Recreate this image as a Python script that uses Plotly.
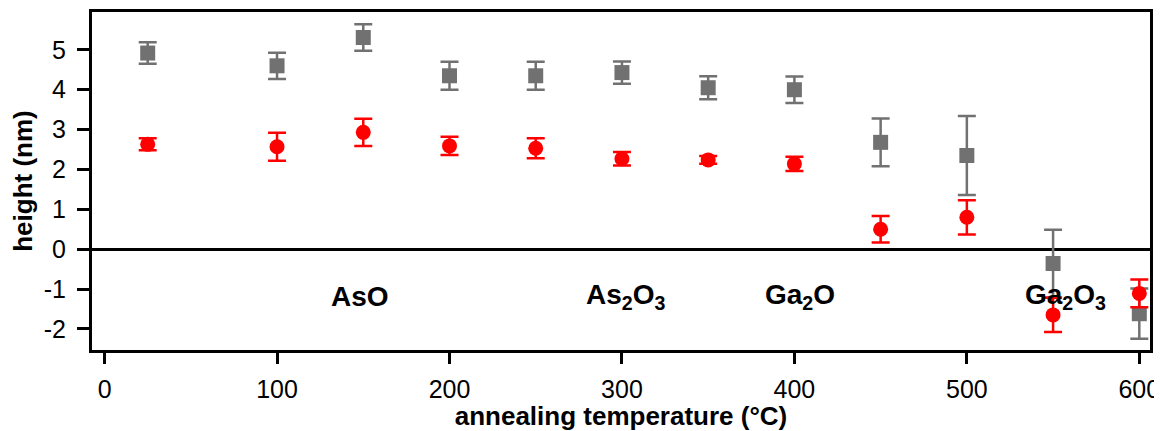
import plotly.graph_objects as go

temps = [25, 100, 150, 200, 250, 300, 350, 400, 450, 500, 550, 600]
gray_h = [4.92, 4.60, 5.31, 4.35, 4.35, 4.43, 4.05, 4.00, 2.68, 2.35, -0.36, -1.62]
gray_err = [0.27, 0.33, 0.33, 0.35, 0.35, 0.28, 0.29, 0.33, 0.60, 0.99, 0.85, 0.63]
red_h = [2.63, 2.57, 2.93, 2.59, 2.53, 2.27, 2.24, 2.14, 0.50, 0.80, -1.65, -1.11]
red_err = [0.15, 0.35, 0.34, 0.23, 0.25, 0.17, 0.10, 0.18, 0.33, 0.43, 0.43, 0.35]

label_text = ["AsO", "As<sub>2</sub>O<sub>3</sub>", "Ga<sub>2</sub>O", "Ga<sub>2</sub>O<sub>3</sub>"]
label_x = [148, 302, 403, 557]
label_y = [-1.18, -1.18, -1.18, -1.18]

x_ticks = [0, 100, 200, 300, 400, 500, 600]
x_tick_text = ["0", "100", "200", "300", "400", "500", "600"]
y_ticks = [-2, -1, 0, 1, 2, 3, 4, 5]
y_tick_text = ["-2", "-1", "0", "1", "2", "3", "4", "5"]

GRAY = "#717171"
RED = "#ff0000"
FONT = "Liberation Sans, Arial, sans-serif"

fig = go.Figure()
fig.add_trace(go.Scatter(
    x=temps, y=gray_h, mode="markers",
    marker=dict(symbol="square", size=15, color=GRAY),
    error_y=dict(type="data", array=gray_err, color=GRAY, thickness=2.5, width=9),
    showlegend=False,
))
fig.add_trace(go.Scatter(
    x=temps, y=red_h, mode="markers",
    marker=dict(symbol="circle", size=15, color=RED),
    error_y=dict(type="data", array=red_err, color=RED, thickness=2.5, width=9),
    showlegend=False,
))

for t, x, y in zip(label_text, label_x, label_y):
    fig.add_annotation(x=x, y=y, text="<b>" + t + "</b>", showarrow=False,
                       font=dict(family=FONT, size=28, color="black"),
                       xanchor="center", yanchor="middle")

# page body has an 8px margin, so the figure is shrunk by 8px to fit the window
fig.update_layout(
    width=1154, height=423,
    margin=dict(l=84, r=12, t=4, b=81),
    paper_bgcolor="white", plot_bgcolor="white",
    font=dict(family=FONT, size=25, color="black"),
)
fig.update_xaxes(
    range=[-7.3, 606.2], tickvals=x_ticks, ticktext=x_tick_text,
    ticks="outside", ticklen=11, tickwidth=3,
    tickcolor="black", showline=True, linecolor="black", linewidth=3, mirror=True,
    showgrid=False, zeroline=False, automargin=False,
    title=dict(text="<b>annealing temperature (°C)</b>", font=dict(size=26), standoff=2),
    tickfont=dict(size=25), ticklabelstandoff=4,
)
fig.update_yaxes(
    range=[-2.53, 5.95], tickvals=y_ticks, ticktext=y_tick_text,
    ticks="outside", ticklen=12, tickwidth=3,
    tickcolor="black", showline=True, linecolor="black", linewidth=3, mirror=True,
    showgrid=False, zeroline=True, zerolinecolor="black", zerolinewidth=2.5,
    automargin=False,
    title=dict(text="<b>height (nm)</b>", font=dict(size=26), standoff=8),
    tickfont=dict(size=25), ticklabelstandoff=6,
)

fig.write_html("out.html")
